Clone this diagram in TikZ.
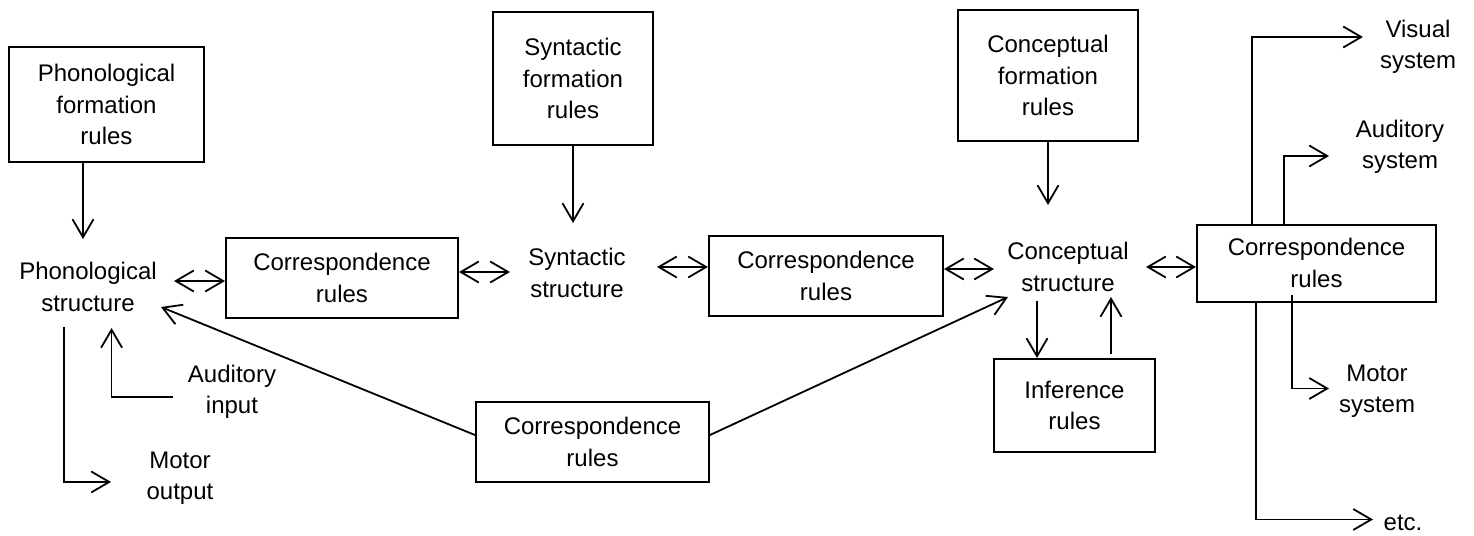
\documentclass[tikz,border=0pt]{standalone}
\usepackage{fontspec}
\setmainfont{Liberation Sans}
\usetikzlibrary{arrows.meta,calc}
\tikzset{
  box/.style={draw, line width=1pt, inner sep=0pt, align=center},
  lab/.style={align=center, inner sep=0pt},
  arr/.style={-{Straight Barb[length=9pt,width=10.5pt,line width=0.9pt]}, line width=0.9pt},
  darr/.style={{Straight Barb[length=9pt,width=10.5pt,line width=0.9pt]}-{Straight Barb[length=9pt,width=10.5pt,line width=0.9pt]}, line width=0.9pt},
  every node/.style={font=\fontsize{12pt}{15.75pt}\selectfont}
}
\begin{document}
\begin{tikzpicture}[x=0.5pt,y=-0.5pt]
\useasboundingbox (0,0) rectangle (1474,536);
% boxes
\node[box, minimum width=97.5pt, minimum height=57.5pt] (pfr) at (106.5,104.5) {Phonological\\formation\\rules};
\node[box, minimum width=80pt, minimum height=66.5pt] (sfr) at (573,78.5) {Syntactic\\formation\\rules};
\node[box, minimum width=90pt, minimum height=65.5pt] (cfr) at (1048,75.5) {Conceptual\\formation\\rules};
\node[box, minimum width=116pt, minimum height=40pt] (corrL) at (342,278) {Correspondence\\rules};
\node[box, minimum width=117pt, minimum height=40pt] (corrM) at (826,276) {Correspondence\\rules};
\node[box, minimum width=119.5pt, minimum height=38.5pt] (corrR) at (1316.5,263) {Correspondence\\rules};
\node[box, minimum width=116.5pt, minimum height=40pt] (corrB) at (592.5,442) {Correspondence\\rules};
\node[box, minimum width=80.5pt, minimum height=46.5pt] (inf) at (1074.5,405.5) {Inference\\rules};
% labels
\node[lab] (phs) at (88,287) {Phonological\\structure};
\node[lab] (syn) at (577,273) {Syntactic\\structure};
\node[lab] (cns) at (1068,267) {Conceptual\\structure};
\node[lab] (aui) at (232,392) {Auditory\\input};
\node[lab] (mot) at (180,478) {Motor\\output};
\node[lab] (vis) at (1418,47) {Visual\\system};
\node[lab] (aus) at (1400,147) {Auditory\\system};
\node[lab] (mos) at (1377,391) {Motor\\system};
\node[lab] (etc) at (1403,523) {etc.};
% formation arrows
\draw[arr] ($(pfr.south)+(-23.5,0)$) -- ++(0,76);
\draw[arr] (sfr.south) -- ++(0,77);
\draw[arr] (cfr.south) -- ++(0,63);
% horizontal double arrows
\draw[darr] ($(corrL.west)+(-51,3)$) -- ($(corrL.west)+(0,3)$);
\draw[darr] ($(corrL.east)+(0,-6)$) -- ++(51,0);
\draw[darr] ($(corrM.west)+(-51,-9)$) -- ($(corrM.west)+(0,-9)$);
\draw[darr] ($(corrM.east)+(0,-7)$) -- ++(50,0);
\draw[darr] ($(corrR.west)+(-50,4)$) -- ($(corrR.west)+(0,4)$);
% inference
\draw[arr] ($(inf.north)+(-37.5,-57)$) -- ($(inf.north)+(-37.5,0)$);
\draw[arr] ($(inf.north)+(36.5,-4)$) -- ($(inf.north)+(36.5,-61)$);
% bottom correspondence
\draw[arr] ($(corrB.west)+(0,-7)$) -- ++(-314,-128);
\draw[arr] ($(corrB.east)+(0,-7)$) -- ++(298,-138);
% auditory input and motor output
\draw[arr] ($(aui.west)+(-15,5)$) -- ++(-61,0) -- ++(0,-69);
\draw[arr] ($(phs.south)+(-24,15)$) -- ++(0,155) -- ++(47,0);
% right side outputs
\draw[arr] ($(corrR.north)+(-64.5,0)$) -- ++(0,-186.5) -- ++(111,0);
\draw[arr] ($(corrR.north)+(-32.5,0)$) -- ++(0,-67.5) -- ++(45,0);
\draw[arr] ($(corrR.south)+(-24.5,-8)$) -- ++(0,94) -- ++(37,0);
\draw[arr] ($(corrR.south)+(-60.5,0)$) -- ++(0,217) -- ++(117,0);
\end{tikzpicture}
\end{document}
